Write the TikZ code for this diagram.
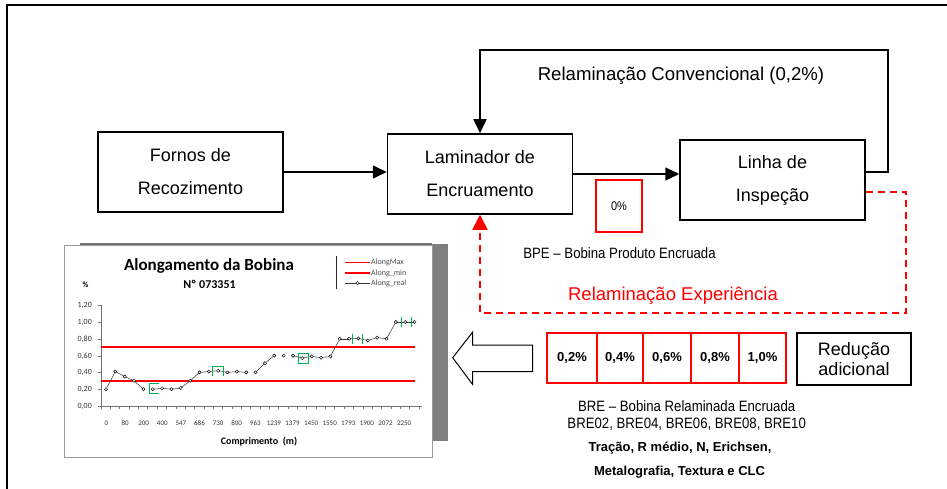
\documentclass[tikz,border=0pt]{standalone}
\usepackage{fontspec}
\usepackage{graphicx}
\setmainfont{Liberation Sans}
\newfontfamily\calib{Carlito}
\usetikzlibrary{arrows.meta,calc}
\definecolor{xgreen}{RGB}{0,176,80}
\definecolor{xred}{RGB}{255,0,0}
\begin{document}
\begin{tikzpicture}[x=1pt,y=-1pt,
  box/.style={draw, line width=1.5pt, minimum width=185pt, minimum height=80pt, inner sep=0pt, align=center, font=\fontsize{18}{33}\selectfont},
  arr/.style={line width=1.5pt, -{Triangle[length=14pt,width=13pt]}},
  redarr/.style={draw=xred, line width=1.8pt, dash pattern=on 7pt off 5pt, -{Triangle[length=15pt,width=15pt,fill=xred]}},
  cell/.style={draw=xred, line width=2pt, minimum height=50pt, inner sep=0pt, font=\fontsize{13}{15}\selectfont\bfseries},
  lbl/.style={inner sep=0pt},
  narrow/.style={inner sep=0pt, font=\fontsize{15}{17}\selectfont},
  bnote/.style={inner sep=0pt, font=\fontsize{13}{15}\selectfont\bfseries},
  ylab/.style={inner sep=0pt, anchor=east, font=\calib\fontsize{8}{9}\selectfont, text=black!80},
  xlab/.style={inner sep=0pt, font=\calib\fontsize{7}{8}\selectfont, text=black!80},
  leg/.style={inner sep=0pt, anchor=west, font=\calib\fontsize{8}{9}\selectfont, text=black!70},
  dline/.style={black!80, line width=0.5pt},
  grn/.style={xgreen, line width=1pt},
  limline/.style={xred, line width=2pt}
]
\useasboundingbox (0,0) rectangle (947,489);

% outer frame (top and left edges)
\draw[line width=1.8pt] (947,5) -- (7,5) -- (7,489);

% main boxes
\node[box] (fornos) at (190.5,172) {Fornos de\\Recozimento};
\node[box] (lamin) at (480,174) {Laminador de\\Encruamento};
\node[box] (linha) at (772.5,180) {Linha de\\Inspeção};

% connectors
\draw[arr] (fornos.east) -- (fornos.east -| lamin.west);
\draw[arr] (lamin.east) -- (lamin.east -| linha.west);
\coordinate (loopA) at (888,172);
\coordinate (loopB) at (888,50);
\coordinate (loopC) at (480,50);
\draw[arr] ($(linha.east)+(0,-8)$) -- (loopA) -- (loopB) -- (loopC) -- (lamin.north);
\node[lbl, font=\fontsize{18.6}{21}\selectfont] (conv) at (681,76) {Relaminação Convencional (0,2\%)};

% red 0% box
\node[draw=xred, line width=2pt, minimum width=46pt, minimum height=52pt, inner sep=0pt] (zero) at (619,206) {\fontsize{12.5}{14}\selectfont\scalebox{0.88}[1]{0\%}};
\node[narrow] (bpe) at (619.5,253) {\scalebox{0.88}[1]{BPE – Bobina Produto Encruada}};

% red dashed loop
\coordinate (dA) at (906,192);
\coordinate (dB) at (906,313);
\coordinate (dC) at (480,313);
\draw[redarr] ($(linha.east)+(0,12)$) -- (dA) -- (dB) -- (dC) -- (lamin.south);
\node[lbl, text=xred, font=\fontsize{18.5}{21}\selectfont] (exp) at (673,296) {Relaminação Experiência};

% chart
\fill[black!50] (432,244) rectangle (448,441);
\draw[black!55, line width=1.5pt] (80,244) -- (432,244);
\draw[black!40, line width=1pt] (64.5,245.5) rectangle (432,457.5);
\node[lbl, font=\calib\fontsize{17}{19}\selectfont\bfseries] (ctitle) at (209,266) {Alongamento da Bobina};
\node[lbl, font=\calib\fontsize{12}{14}\selectfont\bfseries] (cnum) at (209.5,284.3) {Nº 073351};
\node[lbl, font=\calib\fontsize{8}{9}\selectfont\bfseries] (pct) at (85.5,285) {\%};

% legend
\draw[black!85, line width=1pt] (336.5,256) -- (336.5,289);
\draw[limline, line width=1pt] (345,262.5) -- (370,262.5);
\draw[limline] (345,273) -- (370,273);
\draw[black!80, line width=0.6pt] (345,283) -- (370,283);
\draw[black, line width=0.4pt, fill=white] (357.5,283) circle (1.6pt);
\node[leg] (l1) at (371,262) {AlongMax};
\node[leg] (l2) at (371,273) {Along\_min};
\node[leg] (l3) at (371,283) {Along\_real};

% axes
\draw[black!55, line width=1pt] (101.5,305) -- (101.5,406.5) -- (422,406.5);
\foreach \k in {0,...,34} \draw[black!55, line width=0.6pt] ({101+\k*9.35},406) -- ++(0,3);
\foreach \yy in {305,322,339,356,372.5,389.5,406} \draw[black!55, line width=0.6pt] (98,\yy) -- (101,\yy);
\node[ylab] (y6) at (92,305) {1,20};
\node[ylab] (y5) at (92,322) {1,00};
\node[ylab] (y4) at (92,339) {0,80};
\node[ylab] (y3) at (92,356) {0,60};
\node[ylab] (y2) at (92,372.5) {0,40};
\node[ylab] (y1) at (92,389.5) {0,20};
\node[ylab] (y0) at (92,406) {0,00};
\foreach \j/\t in {0/0,1/80,2/200,3/400,4/547,5/686,6/730,7/800,8/963,9/1239,10/1379,11/1450,12/1550,13/1793,14/1900,15/2072,16/2250}
  \node[xlab] (x\j) at ({106.5+\j*18.6},423) {\t};
\node[lbl, font=\calib\fontsize{10}{12}\selectfont\bfseries] (xt) at (259,442) {Comprimento\ \ (m)};

% limits
\draw[limline] (101,347) -- (415,347);
\draw[limline] (101,381) -- (415,381);

% data
\foreach \i/\v in {0/0.20,1/0.41,2/0.35,3/0.30,4/0.20,5/0.20,6/0.21,7/0.20,8/0.215,9/0.30,10/0.40,11/0.41,12/0.42,13/0.40,14/0.41,15/0.40,16/0.40,17/0.51,18/0.60,19/0.60,20/0.60,21/0.57,22/0.59,23/0.575,24/0.59,25/0.80,26/0.80,27/0.805,28/0.78,29/0.815,30/0.80,31/1.00,32/1.00,33/1.00}
  \coordinate (p\i) at ({106+\i*9.35},{406-\v*84});
\foreach \i in {0,1,2,3,5,6,7,8,9,10,11,12,13,14,16,17,20,21,22,23,24,25,26,27,28,29,30,31,32} {
  \pgfmathtruncatemacro\jj{\i+1}
  \draw[dline] (p\i) -- (p\jj);
}
\foreach \i in {0,...,33} \draw[black, line width=0.45pt, fill=white] (p\i) circle (1.6pt);

% green marks
\draw[grn] (159,383.5) -- (149.5,383.5) -- (149.5,393.5) -- (159,393.5);
\draw[grn] (212.5,376) -- (212.5,366.5) -- (223.5,366.5) -- (223.5,376);
\draw[grn] (298.5,353.5) rectangle (308.5,363.5);
\draw[grn] (352.5,334) -- (352.5,344);
\draw[grn] (362.5,334) -- (362.5,344);
\draw[grn] (401.5,317) -- (401.5,327);
\draw[grn] (411.5,317) -- (411.5,327);

% hollow arrow
\draw[line width=1pt] (452.7,357.7) -- (472.5,332.3) -- (472.5,345) -- (532.5,345) -- (532.5,371.7) -- (472.5,371.7) -- (472.5,384.3) -- cycle;

% table
\node[cell, minimum width=50pt] (c1) at (572,358) {0,2\%};
\node[cell, minimum width=46pt] (c2) at (620,358) {0,4\%};
\node[cell, minimum width=48pt] (c3) at (667,358) {0,6\%};
\node[cell, minimum width=48pt] (c4) at (715,358) {0,8\%};
\node[cell, minimum width=47pt] (c5) at (762.5,358) {1,0\%};
\node[draw, line width=2pt, minimum width=114pt, minimum height=52pt, inner sep=0pt, align=center, font=\fontsize{18}{20.7}\selectfont] (redu) at (854,359) {Redução\\adicional};

\node[narrow] (bre1) at (686.7,406) {\scalebox{0.88}[1]{BRE – Bobina Relaminada Encruada}};
\node[narrow] (bre2) at (686.7,424.3) {\scalebox{0.88}[1]{BRE02, BRE04, BRE06, BRE08, BRE10}};
\node[bnote] (t1) at (680,448.3) {Tração, R médio, N, Erichsen,};
\node[bnote] (t2) at (679.5,471.7) {Metalografia, Textura e CLC};
\end{tikzpicture}
\end{document}
